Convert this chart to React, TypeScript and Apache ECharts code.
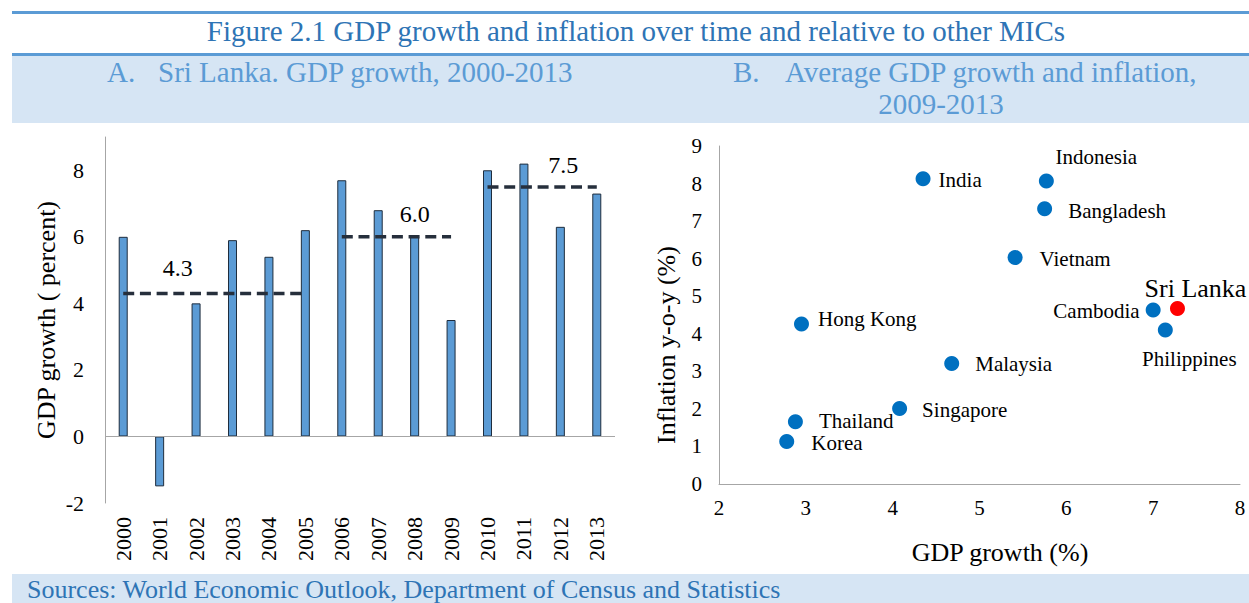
import React, { useEffect, useRef } from "react";
import * as echarts from "echarts";

// ---------- Panel A data ----------
const years = ["2000", "2001", "2002", "2003", "2004", "2005", "2006", "2007", "2008", "2009", "2010", "2011", "2012", "2013"];
const gdpGrowth = [6.0, -1.5, 4.0, 5.9, 5.4, 6.2, 7.7, 6.8, 6.0, 3.5, 8.0, 8.2, 6.3, 7.3];
const avgValues = [4.3, 6.0, 7.5];
const avgStartYear = ["2000", "2006", "2010"];
const avgEndYear = ["2005", "2009", "2013"];
const avgLabelYear = ["2001", "2008", "2012"];

// ---------- Panel B data ----------
const countries = ["India", "Indonesia", "Bangladesh", "Vietnam", "Cambodia", "Sri Lanka", "Philippines", "Hong Kong", "Malaysia", "Singapore", "Thailand", "Korea"];
const avgGdp = [4.35, 5.77, 5.75, 5.41, 7.0, 7.28, 7.14, 2.95, 4.68, 4.08, 2.88, 2.78];
const avgInflation = [8.13, 8.07, 7.33, 6.03, 4.63, 4.67, 4.1, 4.26, 3.21, 2.01, 1.66, 1.13];
const highlightCountry = "Sri Lanka";

// ---------- Texts ----------
const figureTitle = "Figure 2.1 GDP growth and inflation over time and relative to other MICs";
const panelATag = "A.";
const panelATitle = "Sri Lanka. GDP growth, 2000-2013";
const panelBTag = "B.";
const panelBTitle1 = "Average GDP growth and inflation,";
const panelBTitle2 = "2009-2013";
const sourcesText = "Sources: World Economic Outlook, Department of Census and Statistics";

// ---------- label placement (style only) ----------
const avgLabelOffset: Record<string, number[]> = {
  "2001": [18, -25],
  "2008": [0, -22.5],
  "2012": [3, -22],
};

const labelPlacement: Record<string, any> = {
  India: { position: "right", distance: 8, offset: [0, 1] },
  Indonesia: { position: "top", distance: 7, offset: [50, 0] },
  Bangladesh: { position: "right", distance: 16, offset: [0, 2] },
  Vietnam: { position: "right", distance: 17, offset: [0, 1] },
  Cambodia: { position: "left", distance: 6, offset: [0, 1] },
  "Sri Lanka": { position: "top", distance: 0, offset: [18, 0], fontSize: 26 },
  Philippines: { position: "bottom", distance: 12, offset: [24, 0] },
  "Hong Kong": { position: "right", distance: 9, offset: [0, -5] },
  Malaysia: { position: "right", distance: 16, offset: [0, 1] },
  Singapore: { position: "right", distance: 15, offset: [0, 1] },
  Thailand: { position: "right", distance: 16, offset: [0, -1] },
  Korea: { position: "right", distance: 17, offset: [0, 1.5] },
};

const serif = "'Liberation Serif', 'Times New Roman', serif";
const axisGrey = "#a6a6a6";
const bandBlue = "#d6e5f4";
const lineBlue = "#5b9bd5";
const titleBlue = "#2e74b5";

export default function App() {
  const ref = useRef<HTMLDivElement>(null);

  useEffect(() => {
    if (!ref.current) return;
    const chart = echarts.init(ref.current, undefined, { renderer: "svg" });

    const avgSeries = avgValues.map((v, k) => {
      const s = years.indexOf(avgStartYear[k]);
      const e = years.indexOf(avgEndYear[k]);
      const data = years.map((y, i) => {
        if (i < s || i > e) return null;
        if (y === avgLabelYear[k]) {
          return {
            value: v,
            label: {
              show: true,
              position: "inside",
              align: "center",
              verticalAlign: "middle",
              offset: avgLabelOffset[y],
              formatter: () => v.toFixed(1),
              fontSize: 24,
              fontFamily: serif,
              color: "#000",
            },
          };
        }
        return v;
      });
      return {
        type: "line",
        xAxisIndex: 0,
        yAxisIndex: 0,
        data,
        symbol: "circle",
        symbolSize: 0,
        showSymbol: true,
        connectNulls: false,
        z: 5,
        lineStyle: { color: "#262f3c", width: 3.5, type: [11, 5.7], cap: "butt" },
        itemStyle: { color: "#262f3c" },
        label: { show: false },
      };
    });

    const scatterData = countries.map((c, i) => {
      const p = labelPlacement[c] || {};
      return {
        name: c,
        value: [avgGdp[i], avgInflation[i]],
        itemStyle: { color: c === highlightCountry ? "#ff0000" : "#0070c0", opacity: 1 },
        label: {
          show: true,
          formatter: "{b}",
          position: p.position,
          distance: p.distance,
          offset: p.offset,
          fontSize: p.fontSize || 21,
          lineHeight: p.fontSize || 18,
          fontFamily: serif,
          color: "#000",
        },
      };
    });

    const option: any = {
      animation: false,
      textStyle: { fontFamily: serif },
      grid: [
        { left: 105, top: 137, width: 510, height: 366 },
        { left: 719, top: 146, width: 521, height: 338 },
      ],
      xAxis: [
        {
          gridIndex: 0,
          type: "category",
          data: years,
          axisLine: { show: false },
          axisTick: { show: false },
          splitLine: { show: false },
          axisLabel: { rotate: 90, interval: 0, fontSize: 22, color: "#000", margin: 14, fontFamily: serif },
        },
        {
          gridIndex: 1,
          type: "value",
          min: 2,
          max: 8,
          interval: 1,
          axisLine: { show: true, lineStyle: { color: axisGrey, width: 1 } },
          axisTick: { show: false },
          splitLine: { show: false },
          axisLabel: { fontSize: 21, color: "#000", margin: 13, fontFamily: serif },
        },
      ],
      yAxis: [
        {
          gridIndex: 0,
          type: "value",
          min: -2,
          max: 9,
          interval: 2,
          axisLine: { show: true, lineStyle: { color: axisGrey, width: 1 } },
          axisTick: { show: false },
          splitLine: { show: false },
          axisLabel: {
            fontSize: 22,
            color: "#000",
            margin: 21,
            fontFamily: serif,
            formatter: (v: number) => (v === 9 ? "" : String(v)),
          },
          name: "GDP growth ( percent)",
          nameLocation: "middle",
          nameGap: 46,
          nameTextStyle: { fontSize: 26, color: "#000", fontFamily: serif },
        },
        {
          gridIndex: 1,
          type: "value",
          min: 0,
          max: 9,
          interval: 1,
          axisLine: { show: true, lineStyle: { color: axisGrey, width: 1 } },
          axisTick: { show: false },
          splitLine: { show: false },
          axisLabel: { fontSize: 21, color: "#000", margin: 17, fontFamily: serif },
        },
      ],
      series: [
        {
          type: "bar",
          xAxisIndex: 0,
          yAxisIndex: 0,
          data: gdpGrowth,
          barWidth: 9,
          itemStyle: { color: "#5b9bd5", borderColor: "#1f2d3d", borderWidth: 1 },
          markLine: {
            silent: true,
            symbol: "none",
            label: { show: false },
            lineStyle: { color: axisGrey, width: 1, type: "solid" },
            data: [{ yAxis: 0 }],
          },
        },
        ...avgSeries,
        {
          type: "scatter",
          xAxisIndex: 1,
          yAxisIndex: 1,
          symbolSize: 15,
          itemStyle: { opacity: 1 },
          data: scatterData,
        },
      ],
      graphic: [
        { type: "rect", silent: true, z: -10, shape: { x: 12, y: 11, width: 1237, height: 3 }, style: { fill: lineBlue } },
        { type: "rect", silent: true, z: -10, shape: { x: 12, y: 53, width: 1237, height: 3 }, style: { fill: lineBlue } },
        { type: "rect", silent: true, z: -10, shape: { x: 12, y: 56, width: 1237, height: 67 }, style: { fill: bandBlue } },
        { type: "rect", silent: true, z: -10, shape: { x: 12, y: 574, width: 1237, height: 29 }, style: { fill: bandBlue } },
        {
          type: "text", x: 636, y: 31,
          style: { text: figureTitle, fill: titleBlue, fontSize: 29, fontFamily: serif, align: "center", verticalAlign: "middle" },
        },
        {
          type: "text", x: 107, y: 72,
          style: { text: panelATag, fill: lineBlue, fontSize: 29, fontFamily: serif, align: "left", verticalAlign: "middle" },
        },
        {
          type: "text", x: 158, y: 72,
          style: { text: panelATitle, fill: lineBlue, fontSize: 29, fontFamily: serif, align: "left", verticalAlign: "middle" },
        },
        {
          type: "text", x: 733, y: 72,
          style: { text: panelBTag, fill: lineBlue, fontSize: 29, fontFamily: serif, align: "left", verticalAlign: "middle" },
        },
        {
          type: "text", x: 785, y: 72,
          style: { text: panelBTitle1, fill: lineBlue, fontSize: 29, fontFamily: serif, align: "left", verticalAlign: "middle" },
        },
        {
          type: "text", x: 941, y: 104,
          style: { text: panelBTitle2, fill: lineBlue, fontSize: 29, fontFamily: serif, align: "center", verticalAlign: "middle" },
        },
        {
          type: "text", x: 666, y: 345, rotation: Math.PI / 2,
          style: { text: "Inflation y-o-y (%)", fill: "#000", fontSize: 26, fontFamily: serif, align: "center", verticalAlign: "middle" },
        },
        {
          type: "text", x: 1000, y: 552,
          style: { text: "GDP growth (%)", fill: "#000", fontSize: 26, fontFamily: serif, align: "center", verticalAlign: "middle" },
        },
        {
          type: "text", x: 27, y: 589,
          style: { text: sourcesText, fill: titleBlue, fontSize: 26, fontFamily: serif, align: "left", verticalAlign: "middle" },
        },
      ],
    };

    chart.setOption(option);
    return () => chart.dispose();
  }, []);

  return (
    <div
      ref={ref}
      style={{ position: "absolute", left: 0, top: 0, width: 1249, height: 603, background: "#fff" }}
    />
  );
}
